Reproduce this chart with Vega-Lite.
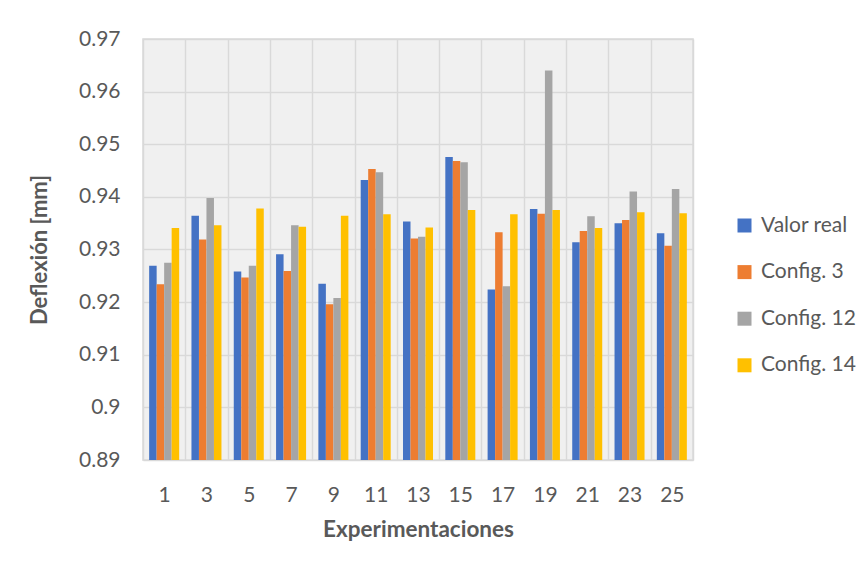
{
  "$schema": "https://vega.github.io/schema/vega-lite/v6.json",
  "width": 550,
  "height": 421,
  "autosize": {"type": "none"},
  "padding": {"left": 143, "top": 39, "right": 174, "bottom": 109},
  "background": "white",
  "config": {
    "font": "Lato",
    "view": {"fill": "#f0f0f0", "stroke": "#d9d9d9", "strokeWidth": 1.5},
    "axis": {"labelColor": "#595959", "titleColor": "#595959", "labelFont": "Lato", "titleFont": "Lato"},
    "legend": {"labelFont": "Lato"}
  },
  "data": {
    "values": [
      {"exp": 1, "serie": "Valor real", "deflexion": 0.9269},
      {"exp": 1, "serie": "Config. 3", "deflexion": 0.9234},
      {"exp": 1, "serie": "Config. 12", "deflexion": 0.9275},
      {"exp": 1, "serie": "Config. 14", "deflexion": 0.9341},
      {"exp": 3, "serie": "Valor real", "deflexion": 0.9364},
      {"exp": 3, "serie": "Config. 3", "deflexion": 0.9319},
      {"exp": 3, "serie": "Config. 12", "deflexion": 0.9398},
      {"exp": 3, "serie": "Config. 14", "deflexion": 0.9346},
      {"exp": 5, "serie": "Valor real", "deflexion": 0.9258},
      {"exp": 5, "serie": "Config. 3", "deflexion": 0.9247},
      {"exp": 5, "serie": "Config. 12", "deflexion": 0.9269},
      {"exp": 5, "serie": "Config. 14", "deflexion": 0.9378},
      {"exp": 7, "serie": "Valor real", "deflexion": 0.9291},
      {"exp": 7, "serie": "Config. 3", "deflexion": 0.9259},
      {"exp": 7, "serie": "Config. 12", "deflexion": 0.9346},
      {"exp": 7, "serie": "Config. 14", "deflexion": 0.9343},
      {"exp": 9, "serie": "Valor real", "deflexion": 0.9235},
      {"exp": 9, "serie": "Config. 3", "deflexion": 0.9196},
      {"exp": 9, "serie": "Config. 12", "deflexion": 0.9208},
      {"exp": 9, "serie": "Config. 14", "deflexion": 0.9364},
      {"exp": 11, "serie": "Valor real", "deflexion": 0.9432},
      {"exp": 11, "serie": "Config. 3", "deflexion": 0.9453},
      {"exp": 11, "serie": "Config. 12", "deflexion": 0.9447},
      {"exp": 11, "serie": "Config. 14", "deflexion": 0.9367},
      {"exp": 13, "serie": "Valor real", "deflexion": 0.9353},
      {"exp": 13, "serie": "Config. 3", "deflexion": 0.9321},
      {"exp": 13, "serie": "Config. 12", "deflexion": 0.9324},
      {"exp": 13, "serie": "Config. 14", "deflexion": 0.9342},
      {"exp": 15, "serie": "Valor real", "deflexion": 0.9476},
      {"exp": 15, "serie": "Config. 3", "deflexion": 0.9468},
      {"exp": 15, "serie": "Config. 12", "deflexion": 0.9466},
      {"exp": 15, "serie": "Config. 14", "deflexion": 0.9375},
      {"exp": 17, "serie": "Valor real", "deflexion": 0.9224},
      {"exp": 17, "serie": "Config. 3", "deflexion": 0.9333},
      {"exp": 17, "serie": "Config. 12", "deflexion": 0.9230},
      {"exp": 17, "serie": "Config. 14", "deflexion": 0.9367},
      {"exp": 19, "serie": "Valor real", "deflexion": 0.9377},
      {"exp": 19, "serie": "Config. 3", "deflexion": 0.9368},
      {"exp": 19, "serie": "Config. 12", "deflexion": 0.9640},
      {"exp": 19, "serie": "Config. 14", "deflexion": 0.9375},
      {"exp": 21, "serie": "Valor real", "deflexion": 0.9314},
      {"exp": 21, "serie": "Config. 3", "deflexion": 0.9335},
      {"exp": 21, "serie": "Config. 12", "deflexion": 0.9363},
      {"exp": 21, "serie": "Config. 14", "deflexion": 0.9341},
      {"exp": 23, "serie": "Valor real", "deflexion": 0.9350},
      {"exp": 23, "serie": "Config. 3", "deflexion": 0.9356},
      {"exp": 23, "serie": "Config. 12", "deflexion": 0.9410},
      {"exp": 23, "serie": "Config. 14", "deflexion": 0.9371},
      {"exp": 25, "serie": "Valor real", "deflexion": 0.9331},
      {"exp": 25, "serie": "Config. 3", "deflexion": 0.9307},
      {"exp": 25, "serie": "Config. 12", "deflexion": 0.9415},
      {"exp": 25, "serie": "Config. 14", "deflexion": 0.9369}
    ]
  },
  "mark": {"type": "bar"},
  "encoding": {
    "x": {
      "field": "exp",
      "type": "ordinal",
      "scale": {"paddingInner": 0, "paddingOuter": 0},
      "axis": {
        "title": "Experimentaciones",
        "labelAngle": 0,
        "labelFontSize": 21,
        "titleFontSize": 22.5,
        "titleFontWeight": "bold",
        "domain": false,
        "ticks": false,
        "tickSize": 0,
        "labelPadding": 24,
        "titlePadding": 13,
        "grid": true,
        "tickBand": "extent",
        "gridColor": "#d9d9d9",
        "gridWidth": 1.5
      }
    },
    "xOffset": {
      "field": "serie",
      "type": "nominal",
      "sort": ["Valor real", "Config. 3", "Config. 12", "Config. 14"],
      "scale": {"paddingInner": 0, "paddingOuter": 0.82}
    },
    "y": {
      "field": "deflexion",
      "type": "quantitative",
      "scale": {"domain": [0.89, 0.97], "zero": false, "nice": false},
      "axis": {
        "title": "Deflexión [mm]",
        "values": [0.89, 0.9, 0.91, 0.92, 0.93, 0.94, 0.95, 0.96, 0.97],
        "format": ".2~f",
        "labelFontSize": 21,
        "titleFontSize": 22,
        "titleFontWeight": "bold",
        "domain": false,
        "ticks": false,
        "tickSize": 0,
        "labelPadding": 23,
        "titlePadding": 27,
        "gridColor": "#d9d9d9",
        "gridWidth": 1.5
      }
    },
    "y2": {"datum": 0.89},
    "color": {
      "field": "serie",
      "type": "nominal",
      "scale": {
        "domain": ["Valor real", "Config. 3", "Config. 12", "Config. 14"],
        "range": ["#4472c4", "#ed7d31", "#a5a5a5", "#ffc000"]
      },
      "legend": {
        "title": null,
        "orient": "none",
        "legendX": 591,
        "legendY": 176,
        "padding": 0,
        "symbolType": "square",
        "symbolSize": 196,
        "symbolStrokeWidth": 0,
        "labelFontSize": 21,
        "labelColor": "#595959",
        "labelOffset": 6,
        "rowPadding": 24.6
      }
    }
  }
}
